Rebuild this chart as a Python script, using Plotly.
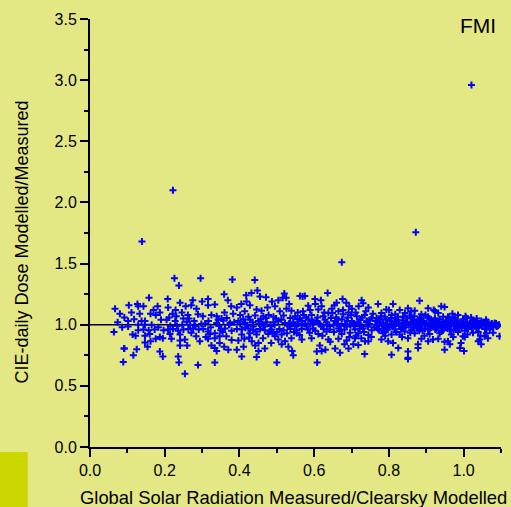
import plotly.graph_objects as go

# ---- data: (global radiation ratio, dose ratio) ----
pts_seg1 = [(0.158,1.22),(0.067,1.13),(0.080,1.09),(0.104,1.16),(0.127,1.17),(0.129,1.15),(0.143,1.15),(0.181,1.15),
            (0.111,1.10),(0.133,1.09),(0.162,1.09),(0.176,1.08),(0.187,1.10),(0.092,1.06),(0.102,1.03),(0.118,1.045),
            (0.138,1.03),(0.147,1.03),(0.086,0.98),(0.102,0.985),(0.129,1.00),(0.147,1.00),(0.165,1.00),(0.183,0.98),
            (0.129,0.955),(0.143,0.96),(0.157,0.955),(0.173,0.96),(0.197,0.955),(0.064,0.94),(0.114,0.92),(0.122,0.91),
            (0.147,0.91),(0.160,0.925),(0.176,0.885),(0.187,0.90),(0.195,0.89),(0.147,0.855),(0.162,0.865),(0.154,0.82),
            (0.092,0.805),(0.125,0.80),(0.187,0.78),(0.116,0.75),(0.089,0.695),(0.195,0.74),(0.091,0.805),(0.074,1.02),
            (0.190,1.04),(0.170,1.12)]

pts_seg2 = [(0.238,1.32),(0.208,1.21),(0.241,1.18),(0.209,1.14),(0.256,1.15),(0.271,1.16),(0.285,1.13),(0.300,1.19),
            (0.316,1.21),(0.316,1.16),(0.334,1.165),(0.359,1.25),(0.369,1.20),(0.378,1.15),(0.221,1.09),(0.231,1.07),
            (0.246,1.10),(0.262,1.08),(0.289,1.085),(0.302,1.07),(0.325,1.08),(0.339,1.07),(0.352,1.05),(0.366,1.055),
            (0.383,1.09),(0.205,1.04),(0.228,1.03),(0.250,1.05),(0.259,1.025),(0.279,1.03),(0.317,1.03),(0.339,1.015),
            (0.375,1.015),(0.209,0.96),(0.222,0.965),(0.236,0.95),(0.250,0.96),(0.263,0.965),(0.276,0.97),(0.291,0.96),
            (0.303,0.965),(0.316,0.945),(0.334,0.93),(0.350,0.955),(0.361,0.97),(0.379,0.95),(0.214,0.925),(0.241,0.92),
            (0.271,0.935),(0.321,0.925),(0.347,0.905),(0.365,0.905),(0.218,0.885),(0.241,0.87),(0.254,0.88),(0.294,0.865),
            (0.316,0.885),(0.334,0.89),(0.347,0.85),(0.379,0.875),(0.241,0.83),(0.325,0.83),(0.334,0.81),(0.359,0.82),
            (0.370,0.795),(0.339,0.785),(0.236,0.74),(0.238,0.69),(0.289,0.67),(0.334,0.69),(0.254,0.60),(0.296,1.38),
            (0.226,1.38),(0.215,0.99),(0.268,1.00),(0.345,0.99),(0.298,1.005),(0.357,1.035),(0.284,0.905),(0.229,1.12),
            (0.212,1.06),(0.233,0.99),(0.247,1.00),(0.265,1.05),(0.282,0.99),(0.308,1.01),(0.323,0.98),(0.343,1.04),
            (0.355,0.94),(0.372,1.00),(0.386,1.02),(0.275,1.20),(0.310,0.90),(0.360,1.10),(0.260,0.83)]

pts_seg3 = [(0.441,1.365),(0.448,1.28),(0.432,1.26),(0.418,1.24),(0.455,1.23),(0.471,1.225),(0.405,1.17),(0.428,1.16),
            (0.520,1.255),(0.516,1.22),(0.504,1.20),(0.525,1.22),(0.562,1.235),(0.393,1.14),(0.414,1.11),(0.446,1.125),
            (0.459,1.115),(0.475,1.14),(0.495,1.15),(0.508,1.11),(0.526,1.13),(0.539,1.115),(0.556,1.10),(0.570,1.11),
            (0.402,1.08),(0.424,1.065),(0.442,1.075),(0.464,1.07),(0.478,1.08),(0.491,1.065),(0.518,1.075),(0.536,1.055),
            (0.549,1.07),(0.562,1.05),(0.397,1.03),(0.415,1.015),(0.435,1.02),(0.451,1.03),(0.473,1.02),(0.491,1.02),
            (0.504,1.03),(0.522,1.015),(0.544,1.02),(0.567,1.03),(0.393,0.965),(0.406,0.96),(0.424,0.97),(0.437,0.955),
            (0.455,0.965),(0.468,0.955),(0.486,0.96),(0.500,0.94),(0.518,0.955),(0.536,0.965),(0.553,0.955),(0.567,0.965),
            (0.406,0.92),(0.428,0.93),(0.446,0.92),(0.477,0.925),(0.495,0.905),(0.513,0.92),(0.553,0.93),(0.397,0.87),
            (0.413,0.885),(0.433,0.865),(0.451,0.85),(0.485,0.85),(0.504,0.88),(0.522,0.865),(0.567,0.88),(0.393,0.795),
            (0.411,0.82),(0.442,0.83),(0.451,0.785),(0.468,0.805),(0.513,0.84),(0.531,0.82),(0.541,0.785),(0.406,0.74),
            (0.446,0.735),(0.544,0.75),(0.500,0.69),(0.381,1.37),(0.421,0.995),(0.462,1.005),(0.483,0.99),(0.529,0.995),
            (0.558,1.005),(0.410,1.045),(0.457,1.045),(0.498,1.05),(0.534,0.985),(0.546,0.94),(0.481,0.945),(0.437,0.985),
            (0.402,1.005),(0.416,0.975),(0.428,1.04),(0.445,0.945),(0.452,1.01),(0.466,0.985),(0.471,1.055),(0.489,0.93),
            (0.494,1.00),(0.507,0.965),(0.512,1.04),(0.527,0.93),(0.533,1.01),(0.548,0.99),(0.555,1.045),(0.561,0.915),
            (0.566,0.995),(0.572,1.08),(0.419,1.19),(0.487,1.19),(0.533,1.17),(0.463,0.89),(0.426,0.895),(0.539,0.89)]

pts_seg4 = [(0.636,1.26),(0.602,1.21),(0.618,1.20),(0.676,1.21),(0.686,1.18),(0.731,1.175),(0.575,1.235),(0.584,1.155),
            (0.611,1.125),(0.620,1.15),(0.660,1.18),(0.638,1.095),(0.665,1.11),(0.701,1.13),(0.719,1.15),(0.745,1.14),
            (0.593,1.08),(0.624,1.07),(0.649,1.095),(0.678,1.085),(0.692,1.10),(0.714,1.07),(0.735,1.08),(0.754,1.055),
            (0.584,1.045),(0.606,1.03),(0.629,1.04),(0.656,1.03),(0.674,1.045),(0.701,1.03),(0.723,1.045),(0.741,1.03),
            (0.580,0.985),(0.597,0.97),(0.620,0.985),(0.642,0.96),(0.665,0.97),(0.687,0.985),(0.709,0.96),(0.731,0.97),
            (0.754,0.955),(0.588,0.935),(0.611,0.925),(0.633,0.945),(0.674,0.925),(0.696,0.935),(0.718,0.93),(0.745,0.915),
            (0.593,0.89),(0.638,0.88),(0.665,0.885),(0.687,0.87),(0.709,0.89),(0.736,0.865),(0.705,0.84),(0.718,0.835),
            (0.745,0.865),(0.615,0.83),(0.656,0.805),(0.692,0.805),(0.620,0.785),(0.630,0.795),(0.607,0.78),(0.669,0.77),
            (0.735,0.76),(0.608,0.69),(0.569,1.23),(0.590,1.005),(0.612,1.01),(0.634,0.995),(0.652,1.00),(0.683,1.005),
            (0.697,0.995),(0.716,1.01),(0.727,0.99),(0.748,1.005),(0.600,1.02),(0.645,1.055),(0.668,0.95),(0.690,1.06),
            (0.712,0.91),(0.740,1.02),(0.660,1.005),(0.625,0.965),(0.702,1.015),(0.578,1.06),
            (0.576,1.01),(0.583,0.96),(0.589,1.12),(0.595,1.03),(0.603,0.95),(0.609,1.06),(0.616,1.005),(0.622,0.91),
            (0.627,1.10),(0.633,1.02),(0.641,0.99),(0.647,1.13),(0.653,0.94),(0.659,1.06),(0.664,1.04),(0.671,0.99),
            (0.677,1.12),(0.681,0.96),(0.688,1.03),(0.694,0.90),(0.699,1.08),(0.706,0.99),(0.711,1.10),(0.717,1.02),
            (0.722,0.97),(0.728,1.06),(0.733,0.94),(0.738,1.11),(0.744,0.985),(0.749,1.04),(0.753,0.90),(0.757,1.09),
            (0.761,0.98),(0.764,1.03),(0.603,1.17),(0.654,1.16),(0.694,1.15),(0.727,1.20),(0.643,0.86),(0.681,0.84),
            (0.726,0.89)]

pts_seg5 = [(0.771,1.17),(0.811,1.17),(0.882,1.195),(0.940,1.15),(0.793,1.125),(0.829,1.12),(0.851,1.135),(0.869,1.115),
            (0.905,1.135),(0.923,1.11),(0.780,1.095),(0.807,1.08),(0.843,1.095),(0.887,1.085),(0.932,1.095),(0.767,1.055),
            (0.789,1.065),(0.816,1.05),(0.838,1.065),(0.860,1.055),(0.883,1.05),(0.905,1.065),(0.923,1.05),(0.945,1.065),
            (0.776,1.02),(0.802,1.03),(0.825,1.015),(0.847,1.025),(0.869,1.015),(0.891,1.03),(0.914,1.015),(0.936,1.025),
            (0.771,0.965),(0.793,0.975),(0.816,0.96),(0.838,0.97),(0.860,0.955),(0.883,0.965),(0.905,0.96),(0.927,0.97),
            (0.945,0.955),(0.785,0.93),(0.829,0.92),(0.869,0.93),(0.909,0.925),(0.936,0.93),(0.807,0.92),(0.780,0.88),
            (0.851,0.89),(0.887,0.885),(0.918,0.88),(0.798,0.865),(0.811,0.85),(0.905,0.865),(0.932,0.885),(0.825,0.81),
            (0.878,0.84),(0.878,0.81),(0.949,0.795),(0.851,0.78),(0.851,0.73),(0.807,0.755),(0.851,0.72),
            (0.768,1.00),(0.782,0.99),(0.795,1.005),(0.808,0.995),(0.821,1.01),(0.834,0.985),(0.846,1.00),(0.858,1.01),
            (0.872,0.99),(0.884,1.005),(0.896,0.995),(0.909,1.01),(0.921,0.99),(0.933,1.005),(0.944,0.99),(0.775,1.04),
            (0.800,0.98),(0.822,1.04),(0.842,0.945),(0.866,1.04),(0.890,0.95),(0.913,1.04),(0.940,0.945),(0.787,0.945),
            (0.856,1.075),(0.898,1.08),(0.925,1.035),(0.817,1.085),(0.876,0.975),(0.951,1.02),
            (0.770,1.025),(0.774,0.955),(0.779,1.07),(0.784,1.015),(0.788,0.985),(0.791,1.045),(0.797,0.96),(0.803,1.00),
            (0.806,1.055),(0.812,0.985),(0.815,1.025),(0.819,0.94),(0.824,1.065),(0.828,1.00),(0.832,0.965),(0.836,1.035),
            (0.840,1.01),(0.844,0.98),(0.849,1.05),(0.853,0.995),(0.857,0.935),(0.862,1.02),(0.865,0.975),(0.868,1.07),
            (0.874,1.01),(0.878,1.04),(0.881,0.95),(0.886,1.02),(0.889,0.995),(0.893,1.06),(0.897,0.97),(0.901,1.015),
            (0.904,0.99),(0.908,1.05),(0.912,0.975),(0.916,1.00),(0.919,1.03),(0.924,0.96),(0.928,1.01),(0.931,0.98),
            (0.935,1.045),(0.939,1.00),(0.943,1.02),(0.947,0.975),(0.952,1.00),(0.800,1.12),(0.860,1.11),(0.920,1.12),
            (0.835,0.90),(0.895,0.91),(0.790,0.91)]

pts_seg6 = [(0.949,1.145),(0.985,1.08),(0.958,1.065),(0.971,1.05),(0.998,1.045),(1.007,1.055),(1.025,1.035),(1.047,1.03),
            (1.065,1.02),(1.083,1.015),(0.954,0.985),(0.976,0.99),(0.994,0.975),(1.016,0.985),(1.034,0.975),(1.056,0.985),
            (1.074,0.99),(1.092,0.995),(0.963,0.955),(0.985,0.94),(1.003,0.95),(1.025,0.935),(1.039,0.94),(1.061,0.93),
            (1.079,0.935),(0.967,0.92),(0.998,0.905),(0.958,0.865),(0.963,0.84),(1.003,0.90),(1.043,0.88),(1.056,0.905),
            (1.065,0.89),(1.096,0.905),(0.993,0.85),(1.039,0.865),(1.047,0.84),(0.990,0.81),(1.001,0.785),(0.949,0.86),
            (0.956,1.005),(0.965,1.015),(0.974,1.00),(0.982,1.02),(0.990,0.995),(0.999,1.01),(1.008,0.995),(1.016,1.015),
            (1.024,1.00),(1.032,1.01),(1.041,0.995),(1.050,1.005),(1.058,1.01),(1.067,0.995),(1.076,1.005),(1.085,1.00),
            (1.060,1.04),(0.960,1.035),(0.980,0.965),(1.012,0.965),(1.030,1.025),(1.070,0.96),(1.088,0.985),(0.970,1.09),
            (1.020,1.06),
            (0.953,1.03),(0.957,0.97),(0.961,1.05),(0.966,0.99),(0.969,1.025),(0.973,0.955),(0.977,1.01),(0.981,0.99),
            (0.984,1.035),(0.988,0.975),(0.992,1.015),(0.996,0.99),(1.000,1.025),(1.004,0.985),(1.009,1.02),(1.013,0.99),
            (1.018,1.005),(1.022,0.97),(1.027,1.015),(1.031,0.99),(1.036,1.02),(1.040,0.975),(1.045,1.01),(1.049,0.99),
            (1.053,1.02),(1.057,0.965),(1.062,1.00),(1.066,1.015),(1.071,0.99),(1.075,1.01),(1.079,0.98),(1.083,1.00),
            (1.087,1.01),(1.091,0.99),(1.095,1.00),(0.976,1.06),(1.005,1.07),(1.035,1.05),(1.010,0.92),(0.972,0.90),
            (1.045,0.91)]

pts_outliers = [(0.139,1.68),(0.222,2.10),(0.674,1.51),(0.872,1.757),(1.021,2.96)]

ref_x = [0.0, 1.1]
ref_y = [1.0, 1.0]

x_ticks = [0.0, 0.2, 0.4, 0.6, 0.8, 1.0]
y_ticks = [0.0, 0.5, 1.0, 1.5, 2.0, 2.5, 3.0, 3.5]

# ---- figure ----
all_pts = pts_seg1 + pts_seg2 + pts_seg3 + pts_seg4 + pts_seg5 + pts_seg6 + pts_outliers
xs = [p[0] for p in all_pts]
ys = [p[1] for p in all_pts]

BG = "rgb(227,232,133)"
FONT = "Liberation Sans, Arial, sans-serif"

fig = go.Figure()
fig.add_trace(go.Scatter(x=ref_x, y=ref_y, mode="lines",
                         line=dict(color="black", width=1.5), hoverinfo="skip", showlegend=False))
fig.add_trace(go.Scatter(x=xs, y=ys, mode="markers",
                         marker=dict(symbol="cross-thin", size=5, color="#0000ff",
                                     line=dict(color="#0000ff", width=2)),
                         showlegend=False))

axis_common = dict(showgrid=False, zeroline=False, showline=True, linecolor="black", linewidth=2,
                   ticks="outside", ticklen=8, tickwidth=1.5, tickcolor="black",
                   tickfont=dict(family=FONT, size=16, color="black"), tickformat=".1f",
                   minor=dict(ticks="outside", ticklen=4, tickwidth=1.5, tickcolor="black", showgrid=False))

fig.update_xaxes(range=[0, 1.1], tickvals=x_ticks, **axis_common)
fig.update_xaxes(minor_dtick=0.1, minor_tick0=0)
fig.update_yaxes(range=[0, 3.5], tickvals=y_ticks, **axis_common)
fig.update_yaxes(minor_dtick=0.25, minor_tick0=0)

fig.update_layout(
    width=511, height=507, autosize=False,
    margin=dict(l=90, r=10, t=19, b=60),
    paper_bgcolor=BG, plot_bgcolor=BG,
    font=dict(family=FONT, color="black"),
    shapes=[dict(type="rect", xref="paper", yref="paper", x0=-0.219, x1=-0.1516, y0=-0.15, y1=-0.0117,
                 fillcolor="rgb(204,214,0)", line=dict(width=0), layer="below")],
    annotations=[
        dict(text="FMI", xref="paper", yref="paper", x=0.993, y=0.984, xanchor="right", yanchor="middle",
             showarrow=False, font=dict(family=FONT, size=21, color="black")),
        dict(text="Global Solar Radiation Measured/Clearsky Modelled", xref="paper", yref="paper",
             x=0.495, y=-0.119, xanchor="center", yanchor="middle", showarrow=False,
             font=dict(family=FONT, size=18.4, color="black")),
        dict(text="CIE-daily Dose Modelled/Measured", xref="paper", yref="paper",
             x=-0.165, y=0.478, xanchor="center", yanchor="middle", textangle=-90, showarrow=False,
             font=dict(family=FONT, size=18, color="black")),
    ],
)

fig.write_html("out.html")
